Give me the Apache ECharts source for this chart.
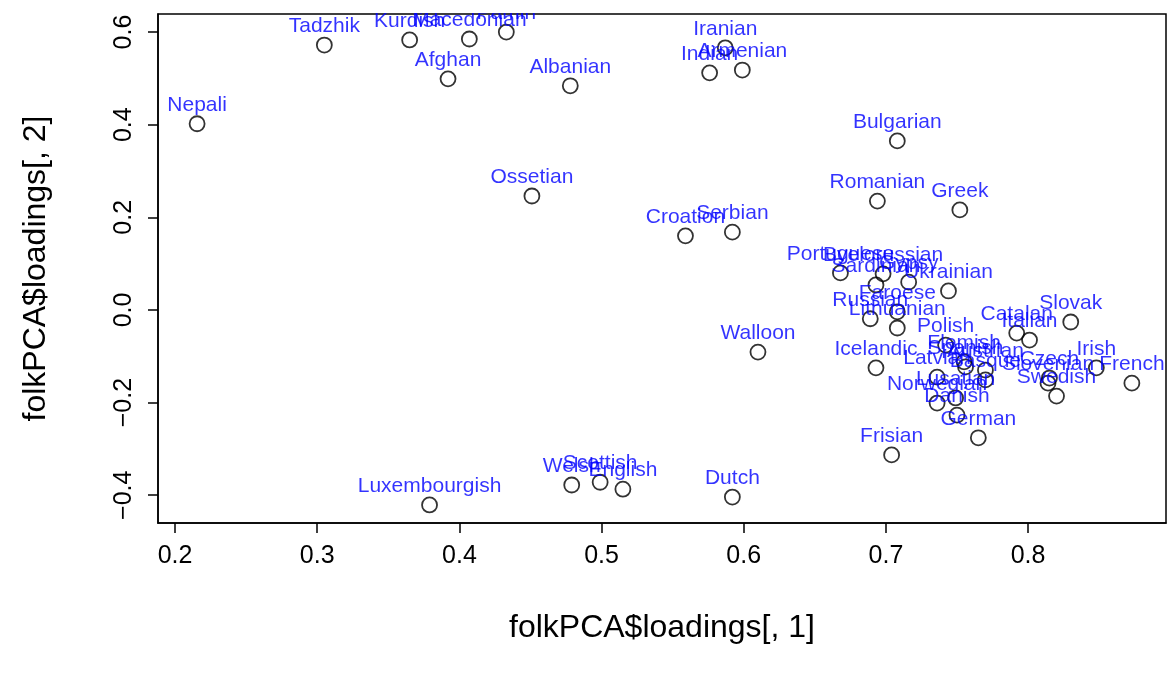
<!DOCTYPE html>
<html>
<head>
<meta charset="utf-8">
<script src="https://cdn.jsdelivr.net/npm/echarts@6/dist/echarts.min.js"></script>
<style>
html,body{margin:0;padding:0;background:#fff;}
#chart{width:1169px;height:679px;}
</style>
</head>
<body>
<div id="chart"></div>
<script>
const names = ["Nepali","Tadzhik","Kurdish","Macedonian","Pamiri","Afghan","Albanian","Iranian","Indian","Armenian",
  "Bulgarian","Romanian","Greek","Ossetian","Croation","Serbian","Portuguese","Byelorussian","Sardinian","Gypsy",
  "Ukrainian","Russian","Faroese","Lithuanian","Polish","Flemish","Spanish","Austrian","Basque","Latvian",
  "Icelandic","Catalan","Italian","Slovak","Irish","French","Czech","Slovenian","Swedish","Norwegian",
  "Lusatian","Danish","German","Frisian","Walloon","Luxembourgish","Welsh","Scottish","English","Dutch"];
const xs = [0.2155,0.305,0.365,0.407,0.433,0.392,0.478,0.587,0.576,0.599,
  0.708,0.694,0.752,0.451,0.559,0.592,0.668,0.698,0.693,0.716,
  0.744,0.689,0.708,0.708,0.742,0.755,0.756,0.770,0.770,0.736,
  0.693,0.792,0.801,0.830,0.848,0.873,0.815,0.814,0.820,0.736,
  0.749,0.750,0.765,0.704,0.610,0.379,0.479,0.499,0.515,0.592];
const ys = [0.402,0.572,0.583,0.585,0.600,0.499,0.484,0.566,0.512,0.518,
  0.365,0.235,0.216,0.246,0.160,0.168,0.080,0.078,0.054,0.060,
  0.041,-0.019,-0.004,-0.039,-0.076,-0.112,-0.123,-0.130,-0.151,-0.145,
  -0.125,-0.050,-0.065,-0.026,-0.125,-0.158,-0.147,-0.158,-0.186,-0.201,
  -0.190,-0.227,-0.276,-0.313,-0.091,-0.421,-0.378,-0.372,-0.387,-0.404];
const xTicks = [0.2,0.3,0.4,0.5,0.6,0.7,0.8];
const yTicks = [-0.4,-0.2,0.0,0.2,0.4,0.6];
const xTitle = "folkPCA$loadings[, 1]";
const yTitle = "folkPCA$loadings[, 2]";

const data = names.map((n,i)=>({name:n, value:[xs[i], ys[i]]}));
const font = "'Liberation Sans', Arial, Helvetica, sans-serif";
const chart = echarts.init(document.getElementById('chart'), null, {renderer:'canvas'});
chart.setOption({
  animation:false,
  backgroundColor:'#fff',
  grid:{left:158, top:14, width:1008, height:509, show:true, borderColor:'#000', borderWidth:1.5, backgroundColor:'transparent'},
  xAxis:{
    type:'value', min:0.188, max:0.897,
    splitLine:{show:false},
    axisLine:{show:true, onZero:false, lineStyle:{color:'#000', width:1.5}},
    axisTick:{show:true, length:10, lineStyle:{color:'#000', width:1.5}, customValues:xTicks},
    axisLabel:{customValues:xTicks, formatter:v=>v.toFixed(1), fontSize:25, color:'#000', fontFamily:font, margin:21},
    name:xTitle, nameLocation:'middle', nameGap:89,
    nameTextStyle:{fontSize:32, color:'#000', fontFamily:font}
  },
  yAxis:{
    type:'value', min:-0.460, max:0.639,
    splitLine:{show:false},
    axisLine:{show:true, onZero:false, lineStyle:{color:'#000', width:1.5}},
    axisTick:{show:true, length:10, lineStyle:{color:'#000', width:1.5}, customValues:yTicks},
    axisLabel:{customValues:yTicks, rotate:90, formatter:v=>(v<0?'\u2212':'')+Math.abs(v).toFixed(1), fontSize:25, color:'#000', fontFamily:font, margin:21},
    name:yTitle, nameLocation:'middle', nameGap:106, nameRotate:90,
    nameTextStyle:{fontSize:32, color:'#000', fontFamily:font}
  },
  graphic:[{type:'rect', z:100, shape:{x:0,y:0,width:1169,height:13}, style:{fill:'#fff'}}],
  series:[{
    type:'scatter', data:data, symbol:'circle', symbolSize:15, clip:false,
    itemStyle:{color:'rgba(0,0,0,0)', borderColor:'#000', borderWidth:1.8},
    label:{show:true, position:'top', distance:0, formatter:p=>p.name, color:'#0000FF', fontSize:21, fontFamily:font},
    labelLayout:{hideOverlap:false},
    emphasis:{disabled:true}
  }]
});
</script>
</body>
</html>
